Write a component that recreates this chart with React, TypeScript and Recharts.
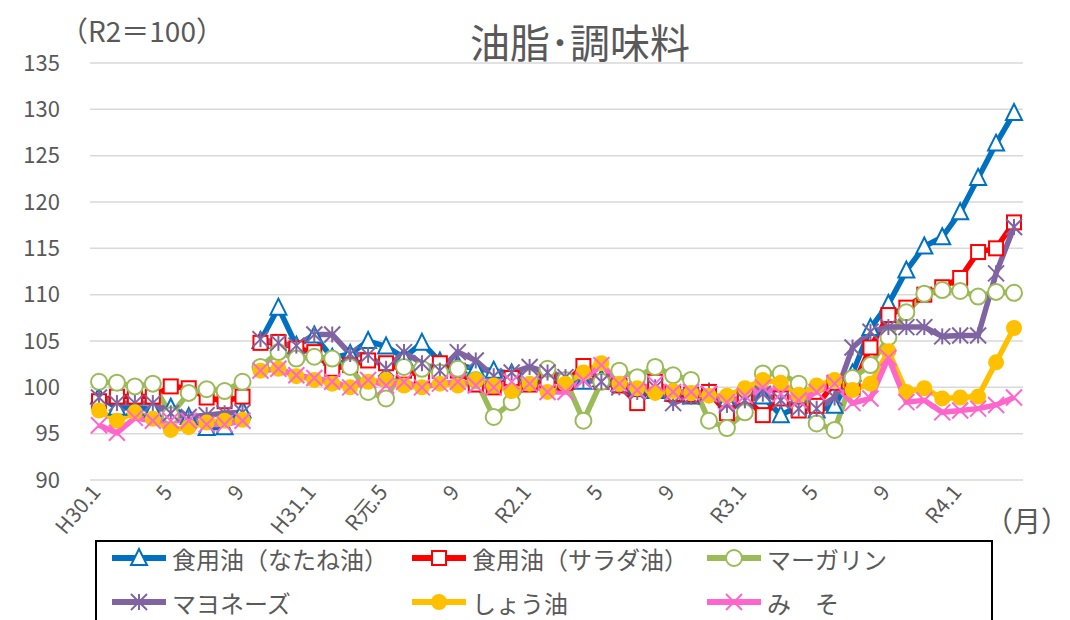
import React from "react";
import { LineChart, Line, XAxis, YAxis, CartesianGrid } from "recharts";

// months H30.1 .. R4.4
const MONTHS = [
  "H30.1", "H30.2", "H30.3", "H30.4", "H30.5", "H30.6", "H30.7", "H30.8", "H30.9", "H30.10", "H30.11", "H30.12",
  "H31.1", "H31.2", "H31.3", "H31.4", "R元.5", "R元.6", "R元.7", "R元.8", "R元.9", "R元.10", "R元.11", "R元.12",
  "R2.1", "R2.2", "R2.3", "R2.4", "R2.5", "R2.6", "R2.7", "R2.8", "R2.9", "R2.10", "R2.11", "R2.12",
  "R3.1", "R3.2", "R3.3", "R3.4", "R3.5", "R3.6", "R3.7", "R3.8", "R3.9", "R3.10", "R3.11", "R3.12",
  "R4.1", "R4.2", "R4.3", "R4.4",
];
const TICKS = ["H30.1", "H30.5", "H30.9", "H31.1", "R元.5", "R元.9", "R2.1", "R2.5", "R2.9", "R3.1", "R3.5", "R3.9", "R4.1"];
const TICK_LABELS = ["H30.1", "5", "9", "H31.1", "R元.5", "9", "R2.1", "5", "9", "R3.1", "5", "9", "R4.1"];
const Y_TICKS = [90, 95, 100, 105, 110, 115, 120, 125, 130, 135];
// the old-base series ends here, the new one starts at H30.10
const NEW_BASE_FROM = "H30.10";

const natane = [
  99.0, 97.8, 97.8, 97.6, 97.8, 96.8, 95.6, 95.7, 97.5,
  105.0, 108.6, 104.5, 105.6, 103.2, 103.6, 105.0, 104.4, 103.2, 104.8, 102.8, 102.4, 102.0, 101.8, 101.5,
  101.2, 101.3, 100.6, 100.6, 100.9, 100.4, 100.0, 99.6, 99.3, 99.0, 99.4, 98.6,
  98.6, 99.0, 97.0, 98.0, 97.5, 98.0, 101.5, 106.4, 109.0, 112.6, 115.2, 116.2,
  118.9, 122.6, 126.3, 129.6,
];
const salad = [
  98.5, 99.0, 99.0, 99.0, 100.1, 99.9, 98.9, 98.5, 99.0,
  104.8, 104.9, 104.2, 103.8, 102.0, 102.4, 102.9, 102.6, 101.8, 101.3, 102.6, 101.8, 100.3, 100.0, 101.0,
  100.3, 100.8, 100.5, 102.3, 100.6, 100.2, 98.3, 100.6, 99.3, 99.2, 99.5, 97.2,
  99.0, 97.0, 98.8, 97.5, 98.0, 100.5, 100.0, 104.3, 107.8, 108.6, 110.0, 110.8,
  111.8, 114.6, 115.0, 117.8,
];
const margarine = [
  100.6, 100.5, 100.1, 100.4, 97.0, 99.4, 99.8, 99.6, 100.6,
  102.2, 103.8, 103.1, 103.3, 103.1, 102.2, 99.5, 98.8, 102.2, 102.0, 101.6, 102.0, 100.8, 96.8, 98.4,
  101.0, 102.0, 100.8, 96.4, 100.6, 101.8, 101.1, 102.2, 101.3, 100.8, 96.4, 95.6,
  97.3, 101.5, 101.5, 100.4, 96.1, 95.4, 101.0, 102.4, 105.4, 108.1, 110.1, 110.5,
  110.4, 109.8, 110.3, 110.2,
];
const mayo = [
  98.9, 98.3, 98.3, 98.3, 97.2, 96.8, 97.0, 97.2, 97.3,
  105.2, 104.8, 104.5, 105.7, 105.7, 103.6, 103.5, 102.0, 103.8, 102.6, 101.8, 103.8, 102.9, 101.2, 101.6,
  102.2, 101.6, 101.1, 100.8, 100.6, 100.0, 99.5, 100.0, 98.3, 99.0, 99.3, 98.1,
  98.6, 99.3, 98.6, 97.7, 97.7, 98.9, 104.3, 106.0, 106.5, 106.5, 106.5, 105.5,
  105.6, 105.6, 112.3, 117.3,
];
const soy = [
  97.5, 96.4, 97.3, 96.6, 95.4, 95.7, 96.2, 96.4, 96.5,
  101.8, 102.0, 101.2, 100.8, 100.4, 100.0, 100.6, 100.8, 100.2, 100.0, 100.4, 100.2, 100.8, 100.2, 99.6,
  100.4, 99.5, 100.4, 101.6, 102.6, 100.4, 99.9, 99.4, 99.6, 99.4, 99.1, 99.1,
  99.9, 100.8, 100.5, 99.2, 100.2, 100.8, 99.7, 100.4, 103.9, 99.5, 99.9, 98.8,
  98.9, 99.0, 102.7, 106.4,
];
const miso = [
  95.9, 95.1, 96.7, 96.4, 96.4, 96.4, 96.0, 96.0, 96.4,
  101.8, 102.0, 101.3, 101.0, 100.6, 100.0, 100.8, 100.2, 100.6, 100.0, 100.4, 100.6, 100.2, 100.0, 100.6,
  100.4, 99.5, 99.5, 100.8, 102.4, 100.4, 99.7, 100.4, 99.5, 99.5, 99.3, 98.4,
  99.1, 100.0, 99.3, 98.6, 99.5, 100.4, 98.3, 98.8, 103.2, 98.4, 98.6, 97.3,
  97.5, 97.7, 98.1, 98.9,
];

const SERIES = [
  { key: "natane", name: "食用油（なたね油）", color: "#0070c0", marker: "triangle", values: natane },
  { key: "salad", name: "食用油（サラダ油）", color: "#ff0000", marker: "square", values: salad },
  { key: "margarine", name: "マーガリン", color: "#9bbb59", marker: "circle", values: margarine },
  { key: "mayo", name: "マヨネーズ", color: "#8064a2", marker: "star", values: mayo },
  { key: "soy", name: "しょう油", color: "#ffc000", marker: "dot", values: soy },
  { key: "miso", name: "み　そ", color: "#ff66cc", marker: "x", values: miso },
];

const breakIdx = MONTHS.indexOf(NEW_BASE_FROM);
const data = MONTHS.map((m, i) => {
  const row: Record<string, string | number | null> = { month: m };
  SERIES.forEach((s) => {
    row[s.key + "A"] = i < breakIdx ? s.values[i] : null;
    row[s.key + "B"] = i >= breakIdx ? s.values[i] : null;
  });
  return row;
});

const FONT = '"Noto Sans CJK JP", "Noto Sans", sans-serif';
const TEXT = "#595959";

function Marker({ kind, color, cx, cy }: { kind: string; color: string; cx: number; cy: number }) {
  const h = 8;
  switch (kind) {
    case "triangle":
      return <polygon points={`${cx},${cy - h - 1} ${cx + h},${cy + h - 1} ${cx - h},${cy + h - 1}`} fill="#fff" stroke={color} strokeWidth={2} />;
    case "square":
      return <rect x={cx - h + 1} y={cy - h + 1} width={h * 2 - 2} height={h * 2 - 2} fill="#fff" stroke={color} strokeWidth={2} />;
    case "circle":
      return <circle cx={cx} cy={cy} r={h} fill="#fff" stroke={color} strokeWidth={2} />;
    case "dot":
      return <circle cx={cx} cy={cy} r={h} fill={color} />;
    case "star":
      return (
        <g stroke={color} strokeWidth={2}>
          <line x1={cx} y1={cy - h} x2={cx} y2={cy + h} />
          <line x1={cx - h} y1={cy - h} x2={cx + h} y2={cy + h} />
          <line x1={cx - h} y1={cy + h} x2={cx + h} y2={cy - h} />
        </g>
      );
    default:
      return (
        <g stroke={color} strokeWidth={2}>
          <line x1={cx - h} y1={cy - h} x2={cx + h} y2={cy + h} />
          <line x1={cx - h} y1={cy + h} x2={cx + h} y2={cy - h} />
        </g>
      );
  }
}

function makeDot(kind: string, color: string) {
  return (props: any) => {
    const { cx, cy, index, value } = props;
    if (value == null || cy == null || isNaN(cy)) return <g key={index} />;
    return (
      <g key={index}>
        <Marker kind={kind} color={color} cx={cx} cy={cy} />
      </g>
    );
  };
}

function XTick(props: any) {
  const { x, y, payload } = props;
  const label = TICK_LABELS[TICKS.indexOf(payload.value)];
  const ax = x - 3;
  const ay = y;
  return (
    <text
      x={ax}
      y={ay}
      transform={`rotate(-50 ${ax} ${ay})`}
      textAnchor="end"
      dy="0.35em"
      fill={TEXT}
      fontSize={21}
      fontFamily={FONT}
    >
      {label}
    </text>
  );
}

function LegendBox() {
  return (
    <div
      style={{
        position: "absolute", left: 95, top: 540, width: 898, height: 100,
        border: "2px solid #000", background: "#fff", boxSizing: "border-box",
      }}
    >
      {SERIES.map((s, i) => (
        <div
          key={s.key}
          style={{
            position: "absolute",
            left: [13, 313, 608][i % 3],
            top: i < 3 ? 0 : 44,
            display: "flex", alignItems: "center", height: 32,
            fontFamily: FONT, fontSize: 24, color: TEXT, whiteSpace: "pre",
          }}
        >
          <svg width={58} height={24} style={{ marginRight: 4 }}>
            <line x1={2} y1={12} x2={56} y2={12} stroke={s.color} strokeWidth={6} />
            <Marker kind={s.marker} color={s.color} cx={29} cy={12} />
          </svg>
          {s.name}
        </div>
      ))}
    </div>
  );
}

export default function App() {
  return (
    <div style={{ position: "absolute", left: 0, top: 0, width: 1070, height: 620, overflow: "hidden", background: "#fff" }}>
      <LineChart width={1070} height={620} data={data} margin={{ top: 63, right: 47, bottom: 0, left: 0 }}>
        <CartesianGrid vertical={false} stroke="#d9d9d9" strokeWidth={1.5} />
        <XAxis
          dataKey="month"
          ticks={TICKS}
          interval={0}
          padding={{ left: 9, right: 9 }}
          height={140}
          axisLine={false}
          tickLine={false}
          tick={<XTick />}
        />
        <YAxis
          domain={[90, 135]}
          ticks={Y_TICKS}
          width={90}
          axisLine={false}
          tickLine={false}
          tickSize={0}
          tickMargin={30}
          tick={{ fill: TEXT, fontSize: 22, fontFamily: FONT }}
        />
        {SERIES.flatMap((s) =>
          ["A", "B"].map((part) => (
            <Line
              key={s.key + part}
              dataKey={s.key + part}
              name={s.name}
              stroke={s.color}
              strokeWidth={5.5}
              dot={makeDot(s.marker, s.color)}
              activeDot={false}
              isAnimationActive={false}
              connectNulls={false}
              legendType="none"
            />
          ))
        )}
      </LineChart>
      <div style={{ position: "absolute", left: 60, top: 10, fontFamily: FONT, fontSize: 28, color: TEXT, whiteSpace: "pre" }}>
        （R2＝100）
      </div>
      <div style={{ position: "absolute", left: 0, width: 1160, top: 12, textAlign: "center", fontFamily: FONT, fontSize: 40, color: TEXT }}>
        油脂･調味料
      </div>
      <div style={{ position: "absolute", left: 985, top: 500, fontFamily: FONT, fontSize: 28, color: TEXT, whiteSpace: "pre" }}>
        （月）
      </div>
      <LegendBox />
    </div>
  );
}
